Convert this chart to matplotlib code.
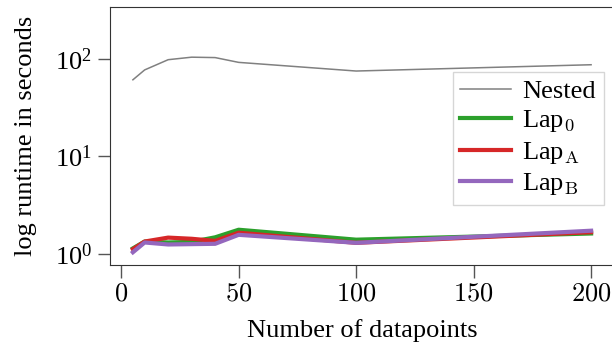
import matplotlib
matplotlib.use('Agg')
import matplotlib.pyplot as plt
from matplotlib.ticker import FuncFormatter, NullLocator, LogLocator

# data
n_points = [5, 10, 20, 30, 40, 50, 100, 200]
nested = [61, 77, 98, 104, 103, 92, 75, 87]
lap_0 = [1.14, 1.34, 1.31, 1.33, 1.48, 1.77, 1.40, 1.62]
lap_a = [1.12, 1.34, 1.47, 1.43, 1.36, 1.65, 1.30, 1.67]
lap_b = [1.04, 1.31, 1.25, 1.26, 1.27, 1.57, 1.30, 1.73]

plt.rcParams['font.family'] = ['Liberation Serif', 'DejaVu Serif']
plt.rcParams['mathtext.fontset'] = 'cm'
plt.rcParams['font.size'] = 19

fig = plt.figure(figsize=(6.12, 3.43), dpi=100)
ax = fig.add_axes([110 / 612, 78 / 343, 504 / 612, 258 / 343])

ax.plot(n_points, nested, color='#808080', lw=1.1, label='Nested')
ax.plot(n_points, lap_0, color='#2ca02c', lw=3, label='Lap$_0$')
ax.plot(n_points, lap_a, color='#d62728', lw=3, label='Lap$_\\mathrm{A}$')
ax.plot(n_points, lap_b, color='#9467bd', lw=3, label='Lap$_\\mathrm{B}$')

ax.set_yscale('log')
ax.set_xlim(-4.75, 209.75)
ax.set_ylim(0.77, 340)
ax.yaxis.set_major_locator(LogLocator(base=10, numticks=5))
ax.yaxis.set_minor_locator(NullLocator())
ax.set_xticks([0, 50, 100, 150, 200])
ax.xaxis.set_major_formatter(FuncFormatter(lambda v, p: '$%d$' % v))

for s in ['left', 'bottom', 'top']:
    ax.spines[s].set_color('#333333')
ax.spines['right'].set_visible(False)
ax.tick_params(axis='both', which='major', length=9, width=1, color='#555555', pad=4)
ax.tick_params(axis='x', top=False)

ax.set_xlabel('Number of datapoints', labelpad=10)
ax.set_ylabel('log runtime in seconds', labelpad=13)

leg = ax.legend(loc='upper right', bbox_to_anchor=(604 / 612, (343 - 72) / 343),
                bbox_transform=fig.transFigure, borderaxespad=0, fancybox=False,
                edgecolor='#cccccc', handlelength=1.9, handletextpad=0.45,
                labelspacing=0.2, borderpad=0.3)
leg.get_frame().set_linewidth(1)

fig.savefig('out.png', dpi=100)
